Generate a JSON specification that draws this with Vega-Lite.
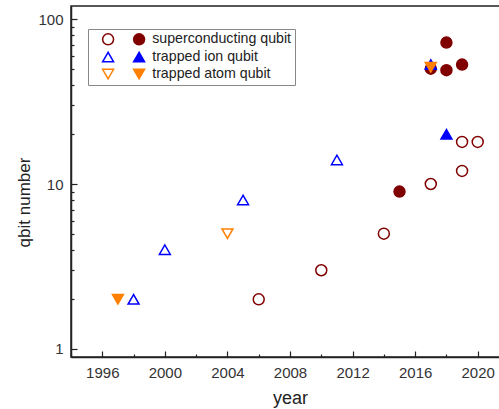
{
  "$schema": "https://vega.github.io/schema/vega-lite/v6.json",
  "width": 438,
  "height": 351,
  "autosize": {"type": "none"},
  "padding": {"left": 71, "top": 6, "right": 0, "bottom": 52},
  "background": "white",
  "config": {"view": {"stroke": "#222", "strokeWidth": 1.5}, "font": "Liberation Sans"},
  "data": {"values": [
    {"year": 1997, "qubits": 2, "kind": "trapped atom qubit"},
    {"year": 1998, "qubits": 2, "kind": "trapped ion qubit (open)"},
    {"year": 2000, "qubits": 4, "kind": "trapped ion qubit (open)"},
    {"year": 2004, "qubits": 5, "kind": "trapped atom qubit (open)"},
    {"year": 2005, "qubits": 8, "kind": "trapped ion qubit (open)"},
    {"year": 2006, "qubits": 2, "kind": "superconducting qubit (open)"},
    {"year": 2010, "qubits": 3, "kind": "superconducting qubit (open)"},
    {"year": 2011, "qubits": 14, "kind": "trapped ion qubit (open)"},
    {"year": 2014, "qubits": 5, "kind": "superconducting qubit (open)"},
    {"year": 2015, "qubits": 9, "kind": "superconducting qubit"},
    {"year": 2017, "qubits": 10, "kind": "superconducting qubit (open)"},
    {"year": 2019, "qubits": 12, "kind": "superconducting qubit (open)"},
    {"year": 2019, "qubits": 18, "kind": "superconducting qubit (open)"},
    {"year": 2020, "qubits": 18, "kind": "superconducting qubit (open)"},
    {"year": 2018, "qubits": 20, "kind": "trapped ion qubit"},
    {"year": 2018, "qubits": 72, "kind": "superconducting qubit"},
    {"year": 2018, "qubits": 49, "kind": "superconducting qubit"},
    {"year": 2019, "qubits": 53, "kind": "superconducting qubit"},
    {"year": 2017, "qubits": 50, "kind": "superconducting qubit"},
    {"year": 2017, "qubits": 53, "kind": "trapped ion qubit"},
    {"year": 2017, "qubits": 51, "kind": "trapped atom qubit"}
  ]},
  "mark": {"type": "point", "size": 120, "strokeWidth": 1.5, "opacity": 1, "fillOpacity": 1, "clip": true},
  "encoding": {
    "x": {
      "field": "year", "type": "quantitative",
      "scale": {"domain": [1994, 2022], "nice": false, "zero": false},
      "axis": {
        "title": "year",
        "values": [1994, 1996, 1998, 2000, 2002, 2004, 2006, 2008, 2010, 2012, 2014, 2016, 2018, 2020, 2022],
        "format": "d",
        "labelExpr": "datum.value % 4 == 0 ? datum.label : ''",
        "tickSize": {"condition": {"test": "datum.value % 4 != 0", "value": -3}, "value": -6},
        "grid": false, "labelOverlap": false, "labelFlush": false,
        "domainColor": "#222", "domainWidth": 1.5, "tickColor": "#222", "tickWidth": 1.2,
        "labelFontSize": 15, "labelColor": "#333", "labelPadding": 14,
        "titleFontSize": 18, "titleFontWeight": "normal", "titleColor": "#222", "titlePadding": 6
      }
    },
    "y": {
      "field": "qubits", "type": "quantitative",
      "scale": {"type": "log", "domain": [0.894, 120], "nice": false},
      "axis": {
        "title": "qbit number",
        "values": [1, 2, 3, 4, 5, 6, 7, 8, 9, 10, 20, 30, 40, 50, 60, 70, 80, 90, 100],
        "format": "d",
        "labelExpr": "datum.value == 1 || datum.value == 10 || datum.value == 100 ? datum.label : ''",
        "tickSize": {"condition": {"test": "datum.value != 1 && datum.value != 10 && datum.value != 100", "value": -3}, "value": -6},
        "grid": false, "labelOverlap": false, "labelFlush": false,
        "domainColor": "#222", "domainWidth": 1.5, "tickColor": "#222", "tickWidth": 1.2,
        "labelFontSize": 15, "labelColor": "#333", "labelPadding": 14,
        "titleFontSize": 17, "titleFontWeight": "normal", "titleColor": "#222",
        "titleX": -47, "titleY": 196, "titleAngle": -90, "titleAlign": "center", "titleBaseline": "middle"
      }
    },
    "shape": {
      "field": "kind", "type": "nominal",
      "scale": {
        "domain": ["superconducting qubit (open)", "trapped ion qubit (open)", "trapped atom qubit (open)", "superconducting qubit", "trapped ion qubit", "trapped atom qubit"],
        "range": ["circle", "triangle-up", "triangle-down", "circle", "triangle-up", "triangle-down"]
      },
      "legend": {
        "orient": "none", "legendX": 17, "legendY": 23, "columns": 2, "title": null,
        "labelExpr": "indexof(datum.label, '(open)') >= 0 ? '' : datum.label",
        "strokeColor": "#888", "fillColor": "white", "padding": 3,
        "columnPadding": -5, "rowPadding": 1,
        "labelFontSize": 14.2, "labelColor": "#222", "labelOffset": 6,
        "symbolSize": 120, "symbolStrokeWidth": 1.5, "symbolOffset": 10
      }
    },
    "fill": {
      "field": "kind", "type": "nominal",
      "scale": {
        "domain": ["superconducting qubit (open)", "trapped ion qubit (open)", "trapped atom qubit (open)", "superconducting qubit", "trapped ion qubit", "trapped atom qubit"],
        "range": ["transparent", "transparent", "transparent", "#800000", "#0000FF", "#FF8000"]
      }
    },
    "stroke": {
      "field": "kind", "type": "nominal",
      "scale": {
        "domain": ["superconducting qubit (open)", "trapped ion qubit (open)", "trapped atom qubit (open)", "superconducting qubit", "trapped ion qubit", "trapped atom qubit"],
        "range": ["#800000", "#0000FF", "#FF8000", "#800000", "#0000FF", "#FF8000"]
      }
    }
  }
}
